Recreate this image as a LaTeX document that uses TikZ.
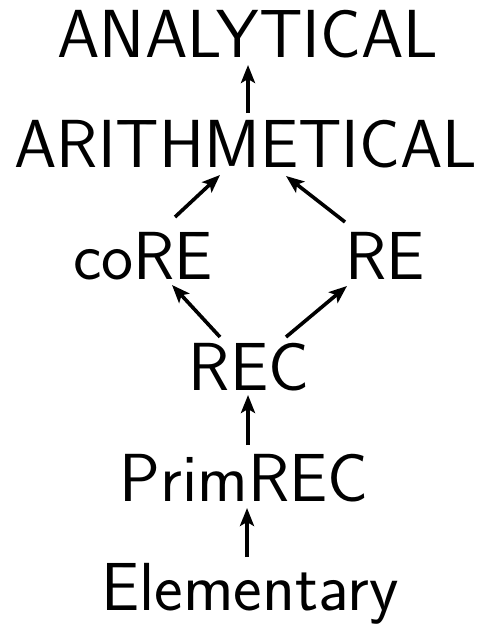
\documentclass[tikz,border=0pt]{standalone}
\usetikzlibrary{arrows.meta,calc}
\begin{document}
\begin{tikzpicture}[x=1pt,y=-1pt,
  lbl/.style={anchor=base,inner sep=0pt,font=\sffamily\fontsize{68}{76}\selectfont},
  arr/.style={-{Stealth[length=18pt,width=14pt,inset=4pt]},line width=3.6pt}]
\useasboundingbox (0,0) rectangle (484,624);
\node[lbl] (ana) at (248,57) {ANALYTICAL};
\node[lbl] (arith) at (246,167) {ARITHMETICAL};
\node[lbl] (core) at (143,279) {coRE};
\node[lbl] (re) at (385,279) {RE};
\node[lbl] (rec) at (249,390) {REC};
\node[lbl] (prim) at (244,501) {PrimREC};
\node[lbl] (elem) at (250,610) {Elementary};
\draw[arr] ($(arith.base)+(2,-54)$) -- ($(ana.base)+(0,8)$);
\draw[arr] ($(core.base)+(32,-62)$) -- ($(arith.base)+(-26,8)$);
\draw[arr] ($(re.base)+(-40,-57)$) -- ($(arith.base)+(40,9)$);
\draw[arr] ($(rec.base)+(-29,-53)$) -- ($(core.base)+(29,6)$);
\draw[arr] ($(rec.base)+(37,-53)$) -- ($(re.base)+(-38,7)$);
\draw[arr] ($(prim.base)+(4,-56)$) -- ($(rec.base)+(-1,5)$);
\draw[arr] ($(elem.base)+(-3,-53)$) -- ($(prim.base)+(3,7)$);
\end{tikzpicture}
\end{document}
